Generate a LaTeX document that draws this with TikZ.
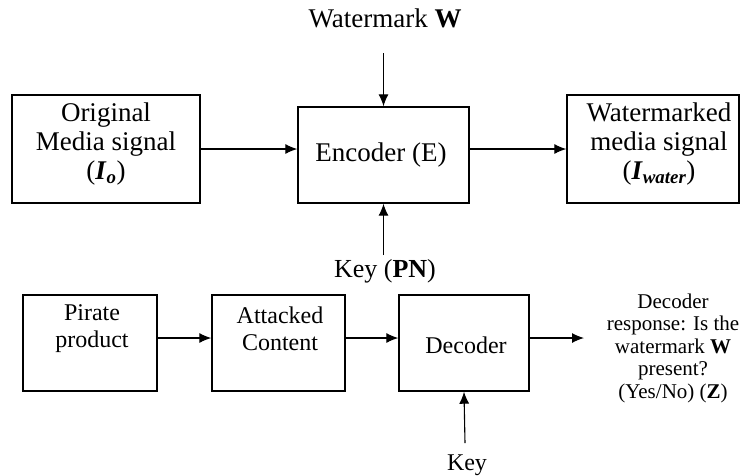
\documentclass[tikz,border=0pt]{standalone}
\usepackage{fontspec}
\setmainfont{Liberation Serif}
\usetikzlibrary{arrows.meta}
\tikzset{
  box/.style={draw, line width=1.4pt, inner sep=0pt},
  lbl/.style={align=center, inner sep=0pt, font=\fontsize{27}{29}\selectfont},
  lblkey/.style={align=center, inner sep=0pt, font=\fontsize{26}{29}\selectfont},
  lblsm/.style={align=center, inner sep=0pt, font=\fontsize{24}{27}\selectfont},
  resp/.style={align=center, inner sep=0pt, font=\fontsize{21}{22.5}\selectfont},
  arr/.style={line width=1.1pt, -{Latex[length=12pt,width=10pt]}},
}
\newcommand{\bi}[1]{\textbf{\textit{#1}}}
\begin{document}
\begin{tikzpicture}[x=1pt,y=-1pt]
  \useasboundingbox (0,0) rectangle (741,475);

  % embedding stage
  \node[box, minimum width=188pt, minimum height=108pt] (orig) at (106,149) {};
  \node[lbl] (origtxt) at (106,144) {Original\\Media signal\\(\bi{I}\textsubscript{\bi{o}})};

  \node[box, minimum width=171pt, minimum height=96pt] (enc) at (383.5,155) {};
  \node[lbl] (enctxt) at (381,155) {Encoder (E)};

  \node[box, minimum width=172pt, minimum height=108pt] (wm) at (653,149) {};
  \node[lbl] (wmtxt) at (659,144) {Watermarked\\media signal\\(\bi{I}\textsubscript{\bi{water}})};

  \node[lbl] (wlabel) at (385,18) {Watermark \textbf{W}};
  \coordinate (wtop) at (383.5,53);
  \node[lblkey, anchor=north] (keypn) at (385,259) {Key (\textbf{PN})};

  \draw[arr] (orig.east |- 0,149) -- (enc.west |- 0,149);
  \draw[arr] (enc.east |- 0,149) -- (wm.west |- 0,149);
  \draw[arr] (wtop) -- (enc.north);
  \draw[arr] (383.5,255) -- (enc.south);

  % detection stage
  \node[box, minimum width=134pt, minimum height=96pt] (pirate) at (90,343) {};
  \node[lblsm] (piratetxt) at (92,329) {Pirate\\product};

  \node[box, minimum width=133pt, minimum height=96pt] (attack) at (278.5,343) {};
  \node[lblsm] (attacktxt) at (280,329) {Attacked\\Content};

  \node[box, minimum width=130pt, minimum height=96pt] (dec) at (464,343) {};
  \node[lblsm] (dectxt) at (466,345) {Decoder};

  \node[resp] (response) at (673,348) {Decoder\\response: Is the\\watermark \textbf{W}\\present?\\(Yes/No) (\textbf{Z})};
  \coordinate (decout) at (584,338);

  \node[lblsm] (key) at (467,465) {Key};
  \coordinate (keytop) at (465,443);

  \draw[arr] (pirate.east |- 0,338) -- (attack.west |- 0,338);
  \draw[arr] (attack.east |- 0,338) -- (dec.west |- 0,338);
  \draw[arr] (dec.east |- 0,338) -- (decout);
  \draw[arr] (keytop) -- (dec.south);
\end{tikzpicture}
\end{document}
